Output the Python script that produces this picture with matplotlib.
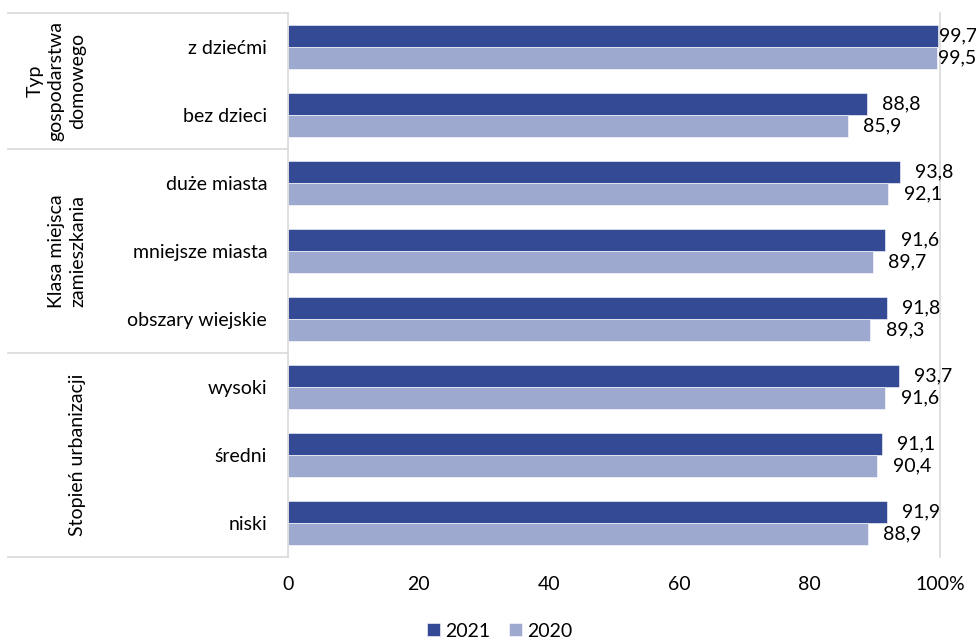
import matplotlib
matplotlib.use("Agg")
import matplotlib.pyplot as plt
import numpy as np

plt.rcParams['font.family'] = ['Lato', 'DejaVu Sans']

categories = ["z dziećmi", "bez dzieci", "duże miasta", "mniejsze miasta",
              "obszary wiejskie", "wysoki", "średni", "niski"]
values_2021 = [99.7, 88.8, 93.8, 91.6, 91.8, 93.7, 91.1, 91.9]
values_2020 = [99.5, 85.9, 92.1, 89.7, 89.3, 91.6, 90.4, 88.9]
series_names = ["2021", "2020"]
groups = ["Typ\ngospodarstwa\ndomowego", "Klasa miejsca\nzamieszkania", "Stopień urbanizacji"]
group_sizes = [2, 3, 3]
xticks = [0, 20, 40, 60, 80, 100]
xtick_labels = ["0", "20", "40", "60", "80", "100%"]

c2021 = "#344A94"
c2020 = "#9DA9CE"
FS = 14

fig = plt.figure(figsize=(9.76, 6.41), dpi=100)
W, H = 976, 641
ax_left, ax_right, ax_top, ax_bottom = 288, 940, 13, 557
ax = fig.add_axes([ax_left / W, 1 - ax_bottom / H, (ax_right - ax_left) / W, (ax_bottom - ax_top) / H])

n = len(categories)
y = np.arange(n)
h = 0.325
ax.barh(y - h / 2, values_2021, height=h, color=c2021, edgecolor="white", linewidth=0.4, label=series_names[0])
ax.barh(y + h / 2, values_2020, height=h, color=c2020, edgecolor="white", linewidth=0.4, label=series_names[1])

ax.set_ylim(n - 0.5, -0.5)
ax.set_xlim(0, 100)
ax.set_yticks(y)
ax.set_yticklabels(categories, fontsize=FS)
ax.set_xticks(xticks)
ax.set_xticklabels(xtick_labels, fontsize=FS)
ax.tick_params(axis='x', length=0, pad=14)
ax.tick_params(axis='y', length=0, pad=15)
for s in ["top", "bottom"]:
    ax.spines[s].set_visible(False)
for s in ["left", "right"]:
    ax.spines[s].set_color("#D9D9D9")
    ax.spines[s].set_linewidth(1.2)

def fmt(v):
    return f"{v:.1f}".replace(".", ",")

for vals, off in ((values_2021, -h / 2), (values_2020, h / 2)):
    for i, v in enumerate(vals):
        dx = 1 if v > 99 else 11
        ax.annotate(fmt(v), (v, i + off), xytext=(dx, 0), textcoords="offset points",
                    va="center", ha="left", fontsize=FS, clip_on=False)

def fy(py):
    return 1 - py / H

band = (ax_bottom - ax_top) / n
boundaries = [0]
for s in group_sizes:
    boundaries.append(boundaries[-1] + s)
for b in boundaries:
    py = ax_top + b * band
    fig.add_artist(plt.Line2D([8 / W, ax_left / W], [fy(py), fy(py)], color="#D9D9D9", linewidth=1.2))
for gi, g in enumerate(groups):
    cy = ax_top + (boundaries[gi] + boundaries[gi + 1]) / 2 * band
    fig.text(86 / W, fy(cy), g, rotation=90, ha="right", va="center", multialignment="center",
             fontsize=FS, linespacing=1.3)

fig.legend(loc="lower center", bbox_to_anchor=(0.512, -0.025), ncol=2, frameon=False,
           fontsize=FS, handlelength=0.65, handleheight=0.65, handletextpad=0.25, columnspacing=1.0)

fig.savefig("out.png", dpi=100)
